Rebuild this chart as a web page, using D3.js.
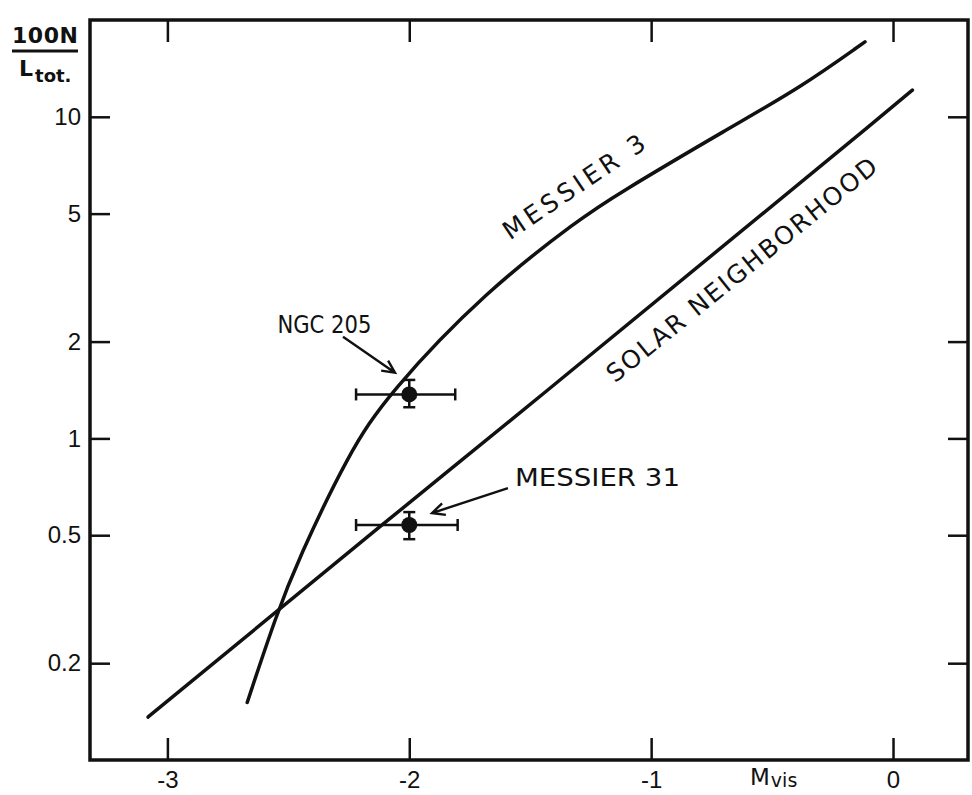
<!DOCTYPE html>
<html>
<head>
<meta charset="utf-8">
<script src="https://cdn.jsdelivr.net/npm/d3@7"></script>
<style>
  body { margin: 0; background: #fff; }
  svg { display: block; font-family: "DejaVu Sans", sans-serif; }
</style>
</head>
<body>
<div id="chart"></div>
<script>
// data (x = M_vis, y = 100N / L_tot)
var messier3 = [
    [-2.67, 0.151], [-2.55, 0.282], [-2.46, 0.419], [-2.25, 0.90],
    [-2.09, 1.37], [-1.68, 2.89], [-1.29, 4.84], [-1.16, 5.63],
    [-0.67, 9.3], [-0.385, 12.3], [-0.116, 17.1]
];
var solar = [
    [-3.08, 0.136], [-2.11, 0.54], [-1.58, 1.14], [-0.11, 9.2], [0.08, 12.1]
];
var galaxies = ["NGC 205", "Messier 31"];
var galaxyMvis = [-2.0, -2.0];
var galaxyMvisErr = [[-2.22, -1.81], [-2.22, -1.80]];
var galaxyN = [1.37, 0.538];
var galaxyNErr = [[1.25, 1.52], [0.486, 0.59]];

var xTicks = [-3, -2, -1, 0];
var yTicks = [10, 5, 2, 1, 0.5, 0.2];
var yTicksRight = [10, 2, 1, 0.5, 0.2];
var yTickLabels = ["10", "5", "2", "1", "0.5", "0.2"];

var svgWidth = 972;
var svgHeight = 795;

var margin = { top: 20, right: 4, bottom: 35, left: 90 };
var width = svgWidth - margin.left - margin.right;
var height = svgHeight - margin.top - margin.bottom;

var svg = d3.select("#chart")
    .append("svg")
    .attr("width", svgWidth)
    .attr("height", svgHeight);

var chartGroup = svg.append("g")
    .attr("transform", `translate(${margin.left}, ${margin.top})`);

var xScale = d3.scaleLinear()
    .domain([-3.32, 0.31])
    .range([0, width]);

var yScale = d3.scaleLog()
    .domain([0.1, 20])
    .range([height, 0]);

// axes, ticks pointing inward
var bottomAxis = d3.axisBottom(xScale)
    .tickValues(xTicks)
    .tickSize(-22)
    .tickSizeOuter(0)
    .tickPadding(11)
    .tickFormat(d => d === 0 ? "0" : "-" + Math.abs(d));

var topAxis = d3.axisTop(xScale)
    .tickValues(xTicks)
    .tickSize(-22)
    .tickSizeOuter(0)
    .tickFormat("");

var leftAxis = d3.axisLeft(yScale)
    .tickValues(yTicks)
    .tickSize(-20)
    .tickSizeOuter(0)
    .tickPadding(9)
    .tickFormat((d, i) => yTickLabels[i]);

var rightAxis = d3.axisRight(yScale)
    .tickValues(yTicksRight)
    .tickSize(-20)
    .tickSizeOuter(0)
    .tickFormat("");

function styleAxis(g) {
    g.select(".domain").remove();
    g.selectAll(".tick line").attr("stroke", "#111").attr("stroke-width", 2.5);
    g.selectAll(".tick text")
        .attr("fill", "#111")
        .attr("font-size", "24px");
}

chartGroup.append("g")
    .attr("transform", `translate(0, ${height})`)
    .call(bottomAxis)
    .call(styleAxis);

chartGroup.append("g")
    .call(topAxis)
    .call(styleAxis);

chartGroup.append("g")
    .call(leftAxis)
    .call(styleAxis);

chartGroup.append("g")
    .attr("transform", `translate(${width}, 0)`)
    .call(rightAxis)
    .call(styleAxis);

// frame
chartGroup.append("rect")
    .attr("x", 0)
    .attr("y", 0)
    .attr("width", width)
    .attr("height", height)
    .attr("fill", "none")
    .attr("stroke", "#111")
    .attr("stroke-width", 3.5);

// curves
var smoothLine = d3.line()
    .x(d => xScale(d[0]))
    .y(d => yScale(d[1]))
    .curve(d3.curveBasis);

var straightLine = d3.line()
    .x(d => xScale(d[0]))
    .y(d => yScale(d[1]))
    .curve(d3.curveMonotoneX);

chartGroup.append("path")
    .datum(messier3)
    .attr("d", smoothLine)
    .attr("fill", "none")
    .attr("stroke", "#111")
    .attr("stroke-width", 3.5)
    .attr("stroke-linecap", "round");

chartGroup.append("path")
    .datum(solar)
    .attr("d", straightLine)
    .attr("fill", "none")
    .attr("stroke", "#111")
    .attr("stroke-width", 3.5)
    .attr("stroke-linecap", "round");

// galaxy points with error bars
galaxies.forEach(function (name, i) {
    var cx = xScale(galaxyMvis[i]);
    var cy = yScale(galaxyN[i]);
    var g = chartGroup.append("g").attr("stroke", "#111").attr("stroke-width", 2.5);

    var x0 = xScale(galaxyMvisErr[i][0]);
    var x1 = xScale(galaxyMvisErr[i][1]);
    g.append("line").attr("x1", x0).attr("x2", x1).attr("y1", cy).attr("y2", cy);
    g.append("line").attr("x1", x0).attr("x2", x0).attr("y1", cy - 6).attr("y2", cy + 6);
    g.append("line").attr("x1", x1).attr("x2", x1).attr("y1", cy - 6).attr("y2", cy + 6);

    var y0 = yScale(galaxyNErr[i][0]);
    var y1 = yScale(galaxyNErr[i][1]);
    g.append("line").attr("x1", cx).attr("x2", cx).attr("y1", y0).attr("y2", y1);
    g.append("line").attr("x1", cx - 6).attr("x2", cx + 6).attr("y1", y0).attr("y2", y0);
    g.append("line").attr("x1", cx - 6).attr("x2", cx + 6).attr("y1", y1).attr("y2", y1);

    chartGroup.append("circle")
        .attr("cx", cx)
        .attr("cy", cy)
        .attr("r", 8)
        .attr("fill", "#111");
});

// annotations: label start, arrow tail, arrow head (data units)
var annoText = ["NGC 205", "MESSIER 31"];
var annoTextPos = [[-2.545, 2.12], [-1.563, 0.71]];
var annoTextLen = [94, 165];
var annoArrow = [[[-2.274, 2.07], [-2.059, 1.60]], [[-1.592, 0.70], [-1.906, 0.586]]];

annoText.forEach(function (t, i) {
    chartGroup.append("text")
        .attr("x", xScale(annoTextPos[i][0]))
        .attr("y", yScale(annoTextPos[i][1]))
        .attr("font-size", "24px")
        .attr("fill", "#111")
        .attr("textLength", annoTextLen[i])
        .attr("lengthAdjust", "spacingAndGlyphs")
        .text(t);

    var tx = xScale(annoArrow[i][0][0]), ty = yScale(annoArrow[i][0][1]);
    var hx = xScale(annoArrow[i][1][0]), hy = yScale(annoArrow[i][1][1]);
    var ang = Math.atan2(hy - ty, hx - tx);
    var len = 14, spread = 0.45;
    var p1 = [hx - len * Math.cos(ang - spread), hy - len * Math.sin(ang - spread)];
    var p2 = [hx - len * Math.cos(ang + spread), hy - len * Math.sin(ang + spread)];
    chartGroup.append("path")
        .attr("d", `M${tx},${ty}L${hx},${hy}M${p1[0]},${p1[1]}L${hx},${hy}L${p2[0]},${p2[1]}`)
        .attr("fill", "none")
        .attr("stroke", "#111")
        .attr("stroke-width", 2.4);
});

// labels along the curves
var curveText = ["MESSIER 3", "SOLAR NEIGHBORHOOD"];
var curveTextPos = [[-1.319, 6.05], [-0.625, 3.34]];
var curveTextAngle = [-34, -39];
var curveTextLen = [166, 340];

curveText.forEach(function (t, i) {
    var x = xScale(curveTextPos[i][0]);
    var y = yScale(curveTextPos[i][1]);
    chartGroup.append("text")
        .attr("transform", `translate(${x}, ${y}) rotate(${curveTextAngle[i]})`)
        .attr("text-anchor", "middle")
        .attr("dominant-baseline", "central")
        .attr("font-size", "25px")
        .attr("fill", "#111")
        .attr("textLength", curveTextLen[i])
        .attr("lengthAdjust", "spacing")
        .text(t);
});

// axis titles
svg.append("text")
    .attr("x", 12)
    .attr("y", 43)
    .attr("font-size", "22px")
    .attr("font-weight", "bold")
    .attr("fill", "#111")
    .attr("textLength", 66)
    .text("100N");

svg.append("line")
    .attr("x1", 12).attr("x2", 78)
    .attr("y1", 51).attr("y2", 51)
    .attr("stroke", "#111")
    .attr("stroke-width", 3);

var lLabel = svg.append("text")
    .attr("x", 19)
    .attr("y", 76)
    .attr("fill", "#111")
    .attr("font-weight", "bold");
lLabel.append("tspan").attr("font-size", "22px").text("L");
lLabel.append("tspan").attr("font-size", "18px").attr("dy", 6).attr("dx", 2).text("tot.");

var mLabel = svg.append("text")
    .attr("x", 750)
    .attr("y", 785)
    .attr("fill", "#111");
mLabel.append("tspan").attr("font-size", "23px").text("M");
mLabel.append("tspan").attr("font-size", "19px").attr("dy", 2).attr("dx", 1).text("vis");
</script>
</body>
</html>
